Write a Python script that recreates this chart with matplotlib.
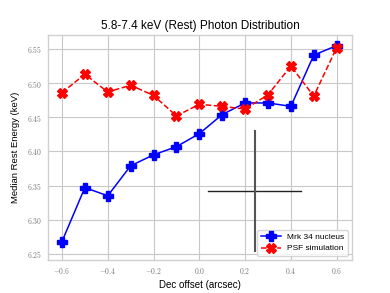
import matplotlib
matplotlib.use("Agg")
import matplotlib.pyplot as plt
from matplotlib.ticker import FuncFormatter

offsets = [-0.6, -0.5, -0.4, -0.3, -0.2, -0.1, 0.0, 0.1, 0.2, 0.3, 0.4, 0.5, 0.6]
nucleus = [6.268, 6.347, 6.335, 6.379, 6.395, 6.407, 6.426, 6.454, 6.471, 6.471, 6.466, 6.541, 6.555]
psf = [6.486, 6.513, 6.487, 6.497, 6.482, 6.452, 6.469, 6.466, 6.462, 6.483, 6.525, 6.481, 6.552]

# typical error cross
err_x, err_y = 0.243, 6.342
err_xerr, err_yerr = 0.203, 0.088

plt.rcParams['mathtext.fontset'] = 'cm'
plt.rcParams['font.family'] = ['Liberation Sans', 'DejaVu Sans']
fig = plt.figure(figsize=(3.9, 2.93), dpi=100)
ax = fig.add_axes([48/390, 1-260/293, (352-48)/390, (260-35)/293])
ax.set_facecolor('white')
ax.grid(True, color='#c8c8c8', linewidth=0.8)
ax.set_axisbelow(True)
for s in ax.spines.values():
    s.set_color('#d0d0d0')
    s.set_linewidth(1.0)

ax.plot(offsets, nucleus, color='blue', linestyle='-', marker='P', markersize=6.8,
        linewidth=1.1, label='Mrk 34 nucleus')
ax.plot(offsets, psf, color='red', linestyle='--', marker='X', markersize=6.8,
        linewidth=1.1, label='PSF simulation')

ax.plot([err_x - err_xerr, err_x + err_xerr], [err_y, err_y], color='#222222', linewidth=1.0)
ax.plot([err_x, err_x], [err_y - err_yerr, err_y + err_yerr], color='#555555', linewidth=1.5)

ax.set_xlim(-0.661, 0.667)
ax.set_ylim(6.241, 6.5705)
ax.set_xticks([-0.6, -0.4, -0.2, 0.0, 0.2, 0.4, 0.6])
ax.set_yticks([6.25, 6.30, 6.35, 6.40, 6.45, 6.50, 6.55])
ax.xaxis.set_major_formatter(FuncFormatter(lambda v, p: r'$%.1f$' % v if abs(v) > 1e-9 else r'$0.0$'))
ax.yaxis.set_major_formatter(FuncFormatter(lambda v, p: r'$%.2f$' % v))
ax.tick_params(axis='both', length=0, labelsize=5.5, labelcolor='#777777', pad=4)

ax.set_title('5.8-7.4 keV (Rest) Photon Distribution', fontsize=8.5, pad=4)
ax.set_xlabel('Dec offset (arcsec)', fontsize=7, labelpad=3)
ax.set_ylabel('Median Rest Energy (keV)', fontsize=6.8, labelpad=5)

leg = ax.legend(loc='lower right', fontsize=6, frameon=True, borderpad=0.4,
                handlelength=2.4, labelspacing=0.4)
leg.get_frame().set_edgecolor('#cccccc')

fig.savefig('out.png', dpi=100)
